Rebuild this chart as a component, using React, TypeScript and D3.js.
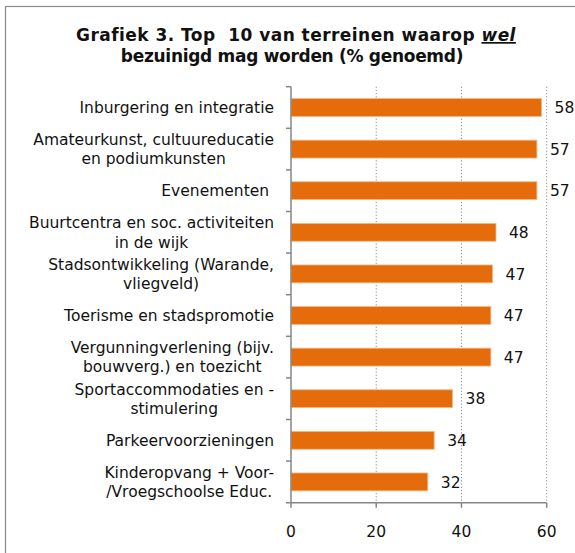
import React, { useEffect, useRef } from "react";
import * as d3 from "d3";

const categories: string[][] = [
  ["Inburgering en integratie"],
  ["Amateurkunst, cultuureducatie", "en podiumkunsten"],
  ["Evenementen "],
  ["Buurtcentra en soc. activiteiten", "in de wijk"],
  ["Stadsontwikkeling (Warande,", "vliegveld)"],
  ["Toerisme en stadspromotie"],
  ["Vergunningverlening (bijv.", "bouwverg.) en toezicht"],
  ["Sportaccommodaties en -", "stimulering"],
  ["Parkeervoorzieningen"],
  ["Kinderopvang + Voor-", "/Vroegschoolse Educ."],
];
const barLengths: number[] = [58.8, 57.7, 57.7, 48.1, 47.3, 46.9, 46.9, 37.9, 33.6, 32.1];
const shownValues: number[] = [58, 57, 57, 48, 47, 47, 47, 38, 34, 32];
const xTicks: number[] = [0, 20, 40, 60];
const titleLine1 = "Grafiek 3. Top  10 van terreinen waarop ";
const titleEmph = "wel";
const titleLine2 = "bezuinigd mag worden (% genoemd)";

const W = 575;
const H = 553;
const FONT = "'DejaVu Sans', Verdana, sans-serif";
const ORANGE = "#E46C0A";

export default function App() {
  const ref = useRef<SVGSVGElement | null>(null);

  useEffect(() => {
    const svg = d3.select(ref.current);
    svg.selectAll("*").remove();

    const x = d3.scaleLinear().domain([0, 60]).range([291, 546.7]);
    const ids = categories.map((_, i) => String(i));
    const y = d3
      .scaleBand<string>()
      .domain(ids)
      .range([86.7, 502.7])
      .paddingInner(0.57)
      .paddingOuter(0.285);
    const step = y.step();
    const top = 86.7;
    const bottom = 502.7;

    // frame
    svg
      .append("rect")
      .attr("x", 5.5)
      .attr("y", 6.5)
      .attr("width", W + 10)
      .attr("height", H + 10)
      .attr("fill", "#fff")
      .attr("stroke", "#8c8c8c")
      .attr("stroke-width", 1.2);

    // title
    const t1 = svg
      .append("text")
      .attr("x", 296)
      .attr("y", 41)
      .attr("text-anchor", "middle")
      .attr("font-family", FONT)
      .attr("font-weight", "bold")
      .attr("font-size", 17)
      .attr("letter-spacing", 0.45)
      .attr("fill", "#111")
      .style("white-space", "pre");
    t1.append("tspan").style("white-space", "pre").text(titleLine1);
    t1.append("tspan")
      .attr("font-style", "italic")
      .attr("text-decoration", "underline")
      .style("text-decoration", "underline")
      .text(titleEmph);
    svg
      .append("text")
      .attr("x", 292)
      .attr("y", 62)
      .attr("text-anchor", "middle")
      .attr("font-family", FONT)
      .attr("font-weight", "bold")
      .attr("font-size", 17)
      .attr("letter-spacing", -0.3)
      .attr("fill", "#111")
      .text(titleLine2);

    // gridlines
    svg
      .append("g")
      .selectAll("line")
      .data(xTicks.filter((d) => d > 0))
      .join("line")
      .attr("x1", (d) => x(d))
      .attr("x2", (d) => x(d))
      .attr("y1", top)
      .attr("y2", bottom)
      .attr("stroke", "#8a8a8a")
      .attr("stroke-width", 1)
      .attr("stroke-dasharray", "1.2,2");

    // bars
    svg
      .append("g")
      .selectAll("rect")
      .data(barLengths)
      .join("rect")
      .attr("x", x(0))
      .attr("y", (_, i) => y(String(i)) as number)
      .attr("width", (d) => x(d) - x(0))
      .attr("height", y.bandwidth())
      .attr("fill", ORANGE)
      .attr("stroke", "#F6B98A")
      .attr("stroke-width", 0.8);

    // value labels
    svg
      .append("g")
      .selectAll("text")
      .data(shownValues)
      .join("text")
      .attr("x", (_, i) => x(barLengths[i]) + 13)
      .attr("y", (_, i) => (y(String(i)) as number) + y.bandwidth() / 2 + 5.6)
      .attr("font-family", FONT)
      .attr("font-size", 15.5)
      .attr("fill", "#111")
      .text((d) => String(d));

    // axes
    const axisColor = "#868686";
    const ax = svg.append("g").attr("stroke", axisColor).attr("stroke-width", 1.5);
    ax.append("line").attr("x1", x(0)).attr("x2", x(0)).attr("y1", top).attr("y2", bottom);
    ax.append("line").attr("x1", x(0) - 5).attr("x2", x(60)).attr("y1", bottom).attr("y2", bottom);
    ax.selectAll(".yt")
      .data(d3.range(categories.length))
      .join("line")
      .attr("class", "yt")
      .attr("x1", x(0) - 5)
      .attr("x2", x(0))
      .attr("y1", (i) => top + i * step)
      .attr("y2", (i) => top + i * step);
    ax.selectAll(".xt")
      .data(xTicks)
      .join("line")
      .attr("class", "xt")
      .attr("x1", (d) => x(d))
      .attr("x2", (d) => x(d))
      .attr("y1", bottom)
      .attr("y2", bottom + 5);

    svg
      .append("g")
      .selectAll("text")
      .data(xTicks)
      .join("text")
      .attr("x", (d) => x(d))
      .attr("y", 537)
      .attr("text-anchor", "middle")
      .attr("font-family", FONT)
      .attr("font-size", 15.5)
      .attr("fill", "#111")
      .text((d) => String(d));

    // category labels
    const capH = 11.3;
    const lineH = 19.3;
    const rightEdge = 274;
    categories.forEach((lines, i) => {
      const c = (y(String(i)) as number) + y.bandwidth() / 2;
      const b1 = c + capH / 2 - ((lines.length - 1) * lineH) / 2;
      const g = svg.append("g");
      const texts = lines.map((ln, k) =>
        g
          .append("text")
          .attr("y", b1 + k * lineH)
          .attr("text-anchor", "middle")
          .attr("font-family", FONT)
          .attr("font-size", 15.5)
          .attr("fill", "#111")
          .style("white-space", "pre")
          .text(ln)
      );
      const widths = texts.map((t) => (t.node() as SVGTextElement).getComputedTextLength());
      const maxW = Math.max(...widths);
      texts.forEach((t) => t.attr("x", rightEdge - maxW / 2));
    });
  }, []);

  return (
    <svg
      ref={ref}
      width={W}
      height={H}
      style={{ position: "absolute", left: 0, top: 0, background: "#fff" }}
    />
  );
}
